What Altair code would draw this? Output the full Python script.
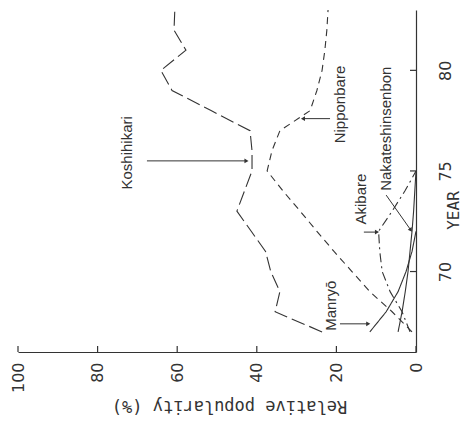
import altair as alt
import pandas as pd

# ---------------- data ----------------
years = list(range(67, 84))
koshihikari = [23.6, 35.4, 34.2, 36.5, 37.8, 41.4, 45.0, 43.1, 41.2, 41.2, 41.7, 51.5, 61.3, 64.1, 57.8, 60.8, 60.6]
nipponbare = [1.0, 6.0, 11.6, 16.1, 20.6, 24.9, 29.1, 33.4, 37.4, 36.2, 34.2, 26.6, 24.9, 23.6, 22.9, 22.4, 22.1]

akibare_years = list(range(67, 76))
akibare = [1.5, 3.5, 6.5, 8.5, 9.1, 9.4, 6.0, 2.8, 0.0]

manryo_years = list(range(67, 73))
manryo = [11.6, 7.5, 4.5, 2.5, 1.0, 0.0]

nakate_years = list(range(67, 76))
nakate = [4.5, 3.5, 2.7, 2.0, 1.5, 1.0, 0.6, 0.3, 0.0]

pop_ticks = [0, 20, 40, 60, 80, 100]
year_ticks = [70, 75, 80]

label_names = ["Koshihikari", "Nipponbare", "Manryō", "Akibare", "Nakateshinsenbon"]
label_pop = [72.6, 19.1, 21.4, 13.8, 7.5]
label_year = [75.9, 78.3, 68.3, 73.6, 77.1]

arrow_pop_from = [67.6, 21.6, 19.1, 13.1, 7.5]
arrow_pop_to = [42.6, 28.4, 12.0, 9.8, 1.3]
arrow_year_from = [75.5, 77.6, 67.4, 71.96, 73.8]
arrow_year_to = [75.5, 77.6, 67.4, 71.96, 72.06]
arrow_dir = [90, 270, 90, 90, 145]

INK = "#333333"

# ---------------- tables ----------------
def series(name, yrs, vals):
    return pd.DataFrame({"variety": name, "year": yrs, "popularity": vals})

lines_df = pd.concat([
    series("Koshihikari", years, koshihikari),
    series("Nipponbare", years, nipponbare),
    series("Akibare", akibare_years, akibare),
    series("Manryō", manryo_years, manryo),
    series("Nakateshinsenbon", nakate_years, nakate),
])

labels_df = pd.DataFrame({"label": label_names, "popularity": label_pop, "year": label_year})
arrows_df = pd.DataFrame({"popularity": arrow_pop_from, "popularity2": arrow_pop_to,
                          "year": arrow_year_from, "year2": arrow_year_to})
heads_df = pd.DataFrame({"popularity": arrow_pop_to, "year": arrow_year_to, "dir": arrow_dir})

# ---------------- encodings ----------------
x_enc = alt.X(
    "popularity:Q",
    scale=alt.Scale(domain=[0, 100], reverse=True, nice=False, zero=False),
    axis=alt.Axis(
        values=pop_ticks, ticks=False, tickSize=0, grid=False,
        domainColor=INK, domainWidth=1.2,
        labelAngle=270, labelAlign="right", labelBaseline="middle", labelPadding=10,
        labelFont="DejaVu Sans", labelFontSize=16, labelColor=INK, labelFlush=False,
        labelOverlap=False,
        title="Relative popularity (%)", titleAngle=180, titleAlign="center",
        titleBaseline="alphabetic", titleX=211, titleY=48,
        titleFont="DejaVu Sans Mono", titleFontSize=17, titleFontWeight="normal",
        titleColor=INK,
    ),
)
y_enc = alt.Y(
    "year:Q",
    scale=alt.Scale(domain=[66, 83], nice=False, zero=False),
    axis=alt.Axis(
        orient="right", values=year_ticks, ticks=False, tickSize=0, grid=False,
        domainColor=INK, domainWidth=1.2,
        labelAngle=270, labelAlign="center", labelBaseline="top", labelPadding=21,
        labelFont="DejaVu Sans", labelFontSize=16, labelColor=INK, labelFlush=False,
        labelOverlap=False,
        title="YEAR", titleAngle=270, titleAlign="center", titleBaseline="top",
        titleX=29, titleY=200,
        titleFont="DejaVu Sans Mono", titleFontSize=16, titleFontWeight="normal",
        titleColor=INK,
    ),
)

dashes = {
    "Koshihikari": [14, 5],
    "Nipponbare": [7, 5],
    "Akibare": [9, 4, 2, 4],
    "Manryō": [1, 0],
    "Nakateshinsenbon": [1, 0],
}

layers = []
for name, dash in dashes.items():
    layers.append(
        alt.Chart(lines_df).transform_filter(alt.datum.variety == name)
        .mark_line(color=INK, strokeWidth=1.1, strokeDash=dash)
        .encode(x=x_enc, y=y_enc, order="year:Q")
    )

# inward ticks
bottom_ticks = alt.Chart(pd.DataFrame({"popularity": pop_ticks})).mark_rule(
    color=INK, strokeWidth=1.2).encode(x=x_enc, y=alt.value(342), y2=alt.value(336))
right_ticks = alt.Chart(pd.DataFrame({"year": year_ticks})).mark_rule(
    color=INK, strokeWidth=1.2).encode(y=y_enc, x=alt.value(398), x2=alt.value(392))

arrows = alt.Chart(arrows_df).mark_rule(color=INK, strokeWidth=1).encode(
    x=x_enc, x2="popularity2:Q", y=y_enc, y2="year2:Q")
heads = alt.Chart(heads_df).mark_point(
    shape="triangle-up", filled=True, color=INK, size=22, opacity=1, strokeWidth=0
).encode(x=x_enc, y=y_enc, angle=alt.Angle("dir:Q", scale=None))

texts = alt.Chart(labels_df).mark_text(
    angle=270, font="Liberation Sans", fontSize=15, color=INK,
    align="center", baseline="middle"
).encode(x=x_enc, y=y_enc, text="label:N")

chart = alt.layer(*layers, bottom_ticks, right_ticks, arrows, heads, texts).properties(
    width=398, height=342,
    autosize=alt.AutoSizeParams(type="none"),
    padding={"left": 10, "top": 2, "right": 48, "bottom": 68},
    background="white",
).configure_view(stroke=None)

chart.save("out.html", embed_options={"renderer": "svg", "actions": False})
